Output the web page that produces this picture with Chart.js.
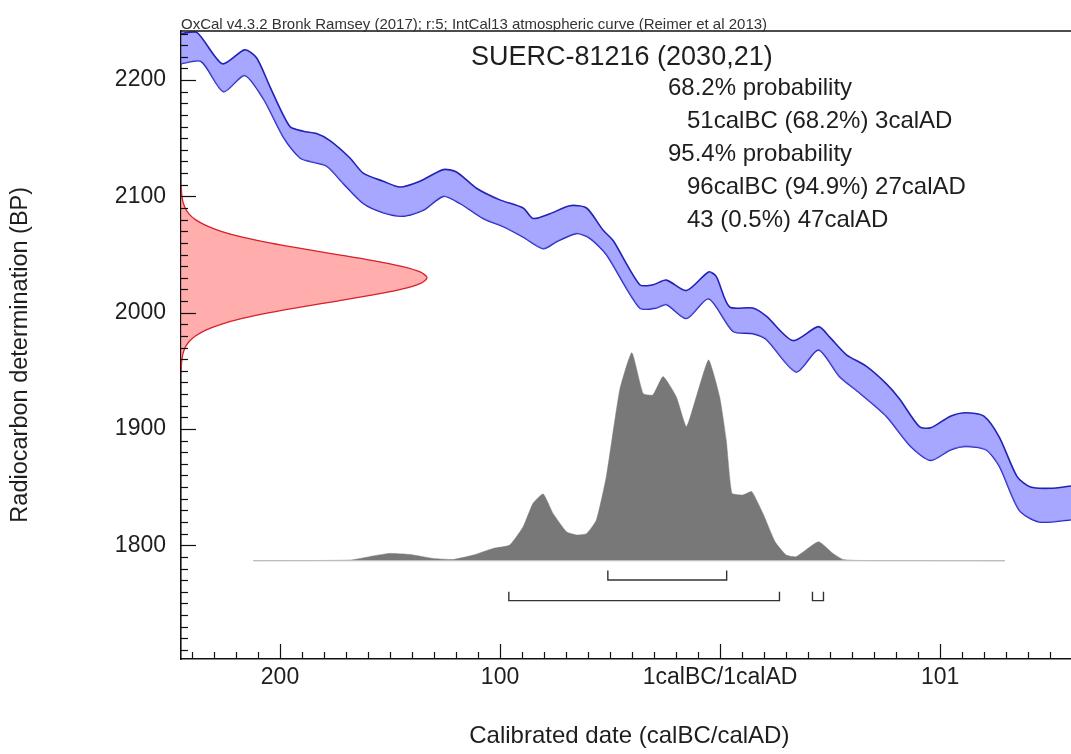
<!DOCTYPE html>
<html>
<head>
<meta charset="utf-8">
<script src="https://cdn.jsdelivr.net/npm/chart.js@4/dist/chart.umd.min.js"></script>
<style>
html,body{margin:0;padding:0;background:#ffffff;}
#wrap{width:1071px;height:754px;position:relative;}
</style>
</head>
<body>
<div id="wrap"><canvas id="c" width="1071" height="754"></canvas></div>
<script>
// ---------- DATA ----------
const xTickValues = [-200, -100, 0, 100];          // year boundaries (negative = calBC)
const yTickValues = [1800, 1900, 2000, 2100, 2200]; // BP

// IntCal13 curve envelope (upper edge), year vs BP
const curveUpperYears = [-245,-237.8,-226.2,-216.1,-210.6,-204.5,-195.5,-189.4,-183.4,-177.3,-168.2,-162.2,-153.1,-145.5,-136.4,-125.8,-119.8,-110.7,-100.1,-89.5,-85.0,-77.4,-68.3,-60.7,-53.2,-48.6,-36.5,-30.5,-24.4,-15.3,-5.2,-1.7,4.3,14.9,21.0,33.1,44.7,49.8,57.3,66.4,75.5,81.5,90.6,95.7,104.7,111.8,119.9,126.9,135.0,141.1,150.2,159.5];
const curveUpperBP    = [2240,2241,2214,2226,2219,2194,2160,2156,2154,2148,2133,2120,2113,2108,2113,2123,2121,2107,2097,2090,2081,2085,2092,2090,2071,2062,2024,2024,2028,2019,2035,2031,2005,2004,1997,1976,1988,1979,1964,1954,1939,1926,1902,1901,1911,1914,1911,1893,1859,1850,1849,1851];
// lower edge
const curveLowerYears = [-245,-235.8,-225.7,-216.1,-207.6,-198.5,-190.9,-186.4,-178.8,-171.2,-162.2,-153.1,-144.0,-134.9,-125.8,-118.3,-107.7,-98.6,-89.5,-80.4,-74.4,-65.3,-59.2,-51.7,-36.5,-29.0,-24.4,-15.3,-5.2,5.9,14.9,21.0,34.6,44.7,54.3,63.4,75.5,86.6,95.7,104.7,111.8,120.9,126.9,136.0,145.1,159.5];
const curveLowerBP    = [2214,2216,2190,2204,2184,2151,2133,2130,2126,2111,2094,2086,2083,2088,2100,2094,2081,2074,2065,2055,2061,2068,2064,2050,2004,2004,2007,1995,2012,1984,1982,1977,1949,1968,1945,1931,1911,1885,1873,1882,1885,1882,1868,1830,1820,1822];

// Radiocarbon determination 2030 +/- 21 BP (relative probability)
const radioBP   = [1950,1955,1960,1965,1970,1975,1980,1985,1990,1995,2000,2005,2010,2015,2020,2025,2030,2035,2040,2045,2050,2055,2060,2065,2070,2075,2080,2085,2090,2095,2100,2105,2110];
const radioProb = [0.0007,0.0017,0.0039,0.0083,0.0169,0.0324,0.0587,0.1007,0.1630,0.2494,0.3604,0.4923,0.6354,0.7748,0.8928,0.9721,1,0.9721,0.8928,0.7748,0.6354,0.4923,0.3604,0.2494,0.1630,0.1007,0.0587,0.0324,0.0169,0.0083,0.0039,0.0017,0.0007];

// Calibrated distribution (relative probability)
const calYears = [-212.1,-168.2,-157.6,-150.1,-141.0,-130.4,-121.3,-112.2,-103.1,-95.6,-89.5,-85.0,-80.4,-75.9,-69.8,-65.3,-60.7,-56.2,-51.7,-45.6,-40.1,-35.0,-30.5,-25.9,-19.9,-15.3,-10.8,-5.2,-0.2,2.8,5.4,10.4,14.4,19.5,25.0,30.1,34.6,44.7,51.3,55.8,60.3,68.4,129.5];
const calProb  = [0,0.003,0.023,0.035,0.030,0.011,0.006,0.027,0.059,0.075,0.163,0.276,0.321,0.227,0.139,0.124,0.130,0.196,0.404,0.821,1.0,0.804,0.797,0.885,0.788,0.644,0.788,0.965,0.788,0.580,0.324,0.316,0.332,0.227,0.091,0.027,0.019,0.091,0.035,0.006,0.002,0.0005,0];

// Ranges (start, end) as year boundaries
const ranges68 = [[-51, 3]];
const ranges95 = [[-96, 27], [42, 47]];

// Texts
const headerText = "OxCal v4.3.2 Bronk Ramsey (2017); r:5; IntCal13 atmospheric curve (Reimer et al 2013)";
const titleText = "SUERC-81216 (2030,21)";
const statLines = [
  {text: "68.2% probability", indent: 0},
  {text: "51calBC (68.2%) 3calAD", indent: 1},
  {text: "95.4% probability", indent: 0},
  {text: "96calBC (94.9%) 27calAD", indent: 1},
  {text: "43 (0.5%) 47calAD", indent: 1}
];

// ---------- HELPERS ----------
function pts(xs, ys){ return xs.map((v,i)=>({x:v, y:ys[i]})); }
function yearLabel(v){
  if (v < 0) return String(-v);
  if (v === 0) return "1calBC/1calAD";
  return String(v + 1);
}
function bracket(r, level, h){
  return [{x:r[0], y:level+h},{x:r[0], y:level},{x:r[1], y:level},{x:r[1], y:level+h}];
}

const FONT = "'Liberation Sans', Arial, Helvetica, sans-serif";
const TXT = '#1e1e1e';

const decor = {
  id: 'decor',
  afterDatasetsDraw(chart){
    const {ctx, chartArea:a, scales:{x, y}} = chart;
    ctx.save();
    ctx.strokeStyle = '#111';
    ctx.lineWidth = 1.5;
    ctx.beginPath(); ctx.moveTo(a.left, a.top); ctx.lineTo(a.right, a.top); ctx.stroke();
    ctx.lineWidth = 1.2;
    for (let v = Math.ceil(y.min/10)*10; v <= y.max; v += 10){
      const py = Math.round(y.getPixelForValue(v)) + 0.5;
      const len = (v % 100 === 0) ? 15 : 7;
      ctx.beginPath(); ctx.moveTo(a.left, py); ctx.lineTo(a.left + len, py); ctx.stroke();
    }
    for (let v = Math.ceil(x.min/10)*10; v <= x.max; v += 10){
      const px = Math.round(x.getPixelForValue(v)) + 0.5;
      const len = (v % 100 === 0) ? 15 : 7;
      ctx.beginPath(); ctx.moveTo(px, a.bottom); ctx.lineTo(px, a.bottom - len); ctx.stroke();
    }
    // texts
    ctx.textBaseline = 'alphabetic';
    ctx.textAlign = 'left';
    ctx.font = "15px " + FONT;
    ctx.fillStyle = '#333';
    ctx.fillText(headerText, a.left, a.top - 2);
    ctx.fillStyle = TXT;
    ctx.font = "27px " + FONT;
    ctx.textBaseline = 'middle';
    ctx.fillText(titleText, a.left + 290, a.top + 27);
    ctx.font = "24px " + FONT;
    statLines.forEach((l, i) => {
      ctx.fillText(l.text, a.left + 487 + l.indent*19, a.top + 57 + i*33);
    });
    ctx.restore();
  }
};

new Chart(document.getElementById('c'), {
  type: 'line',
  data: {
    datasets: [
      { // calibration curve upper edge, filled to lower
        data: pts(curveUpperYears, curveUpperBP),
        xAxisID: 'x', yAxisID: 'y',
        borderColor: '#2222b4', borderWidth: 1.6,
        backgroundColor: 'rgba(125,125,255,0.68)',
        fill: '+1', tension: 0.25, pointRadius: 0, order: 5
      },
      {
        data: pts(curveLowerYears, curveLowerBP),
        xAxisID: 'x', yAxisID: 'y',
        borderColor: '#2222b4', borderWidth: 1.6,
        fill: false, tension: 0.25, pointRadius: 0, order: 5
      },
      { // radiocarbon determination
        data: radioBP.map((b,i)=>({x: radioProb[i], y: b})),
        indexAxis: 'y',
        xAxisID: 'xr', yAxisID: 'y',
        borderColor: '#d8202c', borderWidth: 1.3,
        backgroundColor: 'rgba(255,150,150,0.78)',
        fill: 'origin', tension: 0.3, pointRadius: 0, order: 4
      },
      { // calibrated distribution
        data: pts(calYears, calProb),
        xAxisID: 'x', yAxisID: 'yp',
        borderColor: '#777777', borderWidth: 0.5,
        backgroundColor: '#787878',
        fill: 'origin', tension: 0.15, pointRadius: 0, order: 3
      },
      { // baseline
        data: [{x: calYears[0], y: 0}, {x: calYears[calYears.length-1], y: 0}],
        xAxisID: 'x', yAxisID: 'yp',
        borderColor: '#bdbdbd', borderWidth: 1.2, fill: false, pointRadius: 0, order: 2
      },
      ...ranges68.map(r => ({
        data: bracket(r, -0.093, 0.046), xAxisID: 'x', yAxisID: 'yp',
        borderColor: '#333', borderWidth: 1.4, fill: false, pointRadius: 0, tension: 0, order: 1
      })),
      ...ranges95.map(r => ({
        data: bracket(r, -0.192, 0.043), xAxisID: 'x', yAxisID: 'yp',
        borderColor: '#333', borderWidth: 1.4, fill: false, pointRadius: 0, tension: 0, order: 1
      }))
    ]
  },
  options: {
    responsive: false,
    animation: false,
    devicePixelRatio: 1,
    layout: { padding: { top: 31, right: 0, left: 0, bottom: 0 } },
    plugins: { legend: { display: false }, tooltip: { enabled: false }, title: { display: false } },
    scales: {
      x: {
        type: 'linear', position: 'bottom', min: -245, max: 159.5,
        afterBuildTicks(s){ s.ticks = xTickValues.map(v => ({value: v})); },
        afterFit(s){ s.height = 95; },
        ticks: { callback: v => yearLabel(v), autoSkip: false, maxRotation: 0, padding: 5,
                 font: { family: FONT, size: 23 }, color: TXT },
        grid: { display: false, drawTicks: false },
        border: { display: true, color: '#111', width: 1.6 },
        title: { display: true, text: ' Calibrated date (calBC/calAD)', color: TXT,
                 font: { family: FONT, size: 24 }, padding: { top: 0, bottom: 3 } }
      },
      y: {
        type: 'linear', position: 'left', min: 1702.2, max: 2242.2,
        afterBuildTicks(s){ s.ticks = yTickValues.map(v => ({value: v})); },
        afterFit(s){ s.width = 181; },
        ticks: { callback: v => String(v), autoSkip: false, padding: 15,
                 font: { family: FONT, size: 23 }, color: TXT },
        grid: { display: false, drawTicks: false },
        border: { display: true, color: '#111', width: 1.6 },
        title: { display: true, text: 'Radiocarbon determination (BP)   ', color: TXT,
                 font: { family: FONT, size: 23.5 }, padding: { top: 6, bottom: 0 } }
      },
      xr: { type: 'linear', display: false, min: 0, max: 3.618, position: 'bottom' },
      yp: { type: 'linear', display: false, min: -0.4726, max: 2.5466, position: 'left' }
    }
  },
  plugins: [decor]
});
</script>
</body>
</html>
